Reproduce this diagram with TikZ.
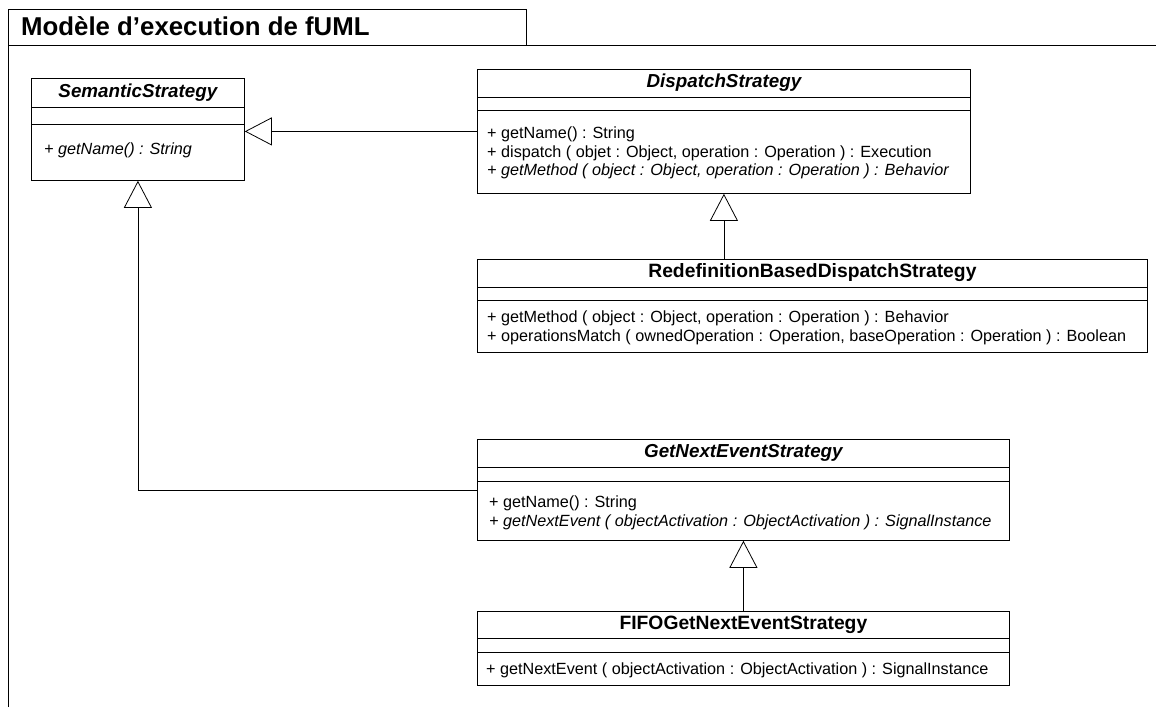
\documentclass[tikz,border=0pt]{standalone}
\usepackage{fontspec}
\setmainfont{Liberation Sans}
\usetikzlibrary{arrows.meta}

\tikzset{
	box/.style={draw, line width=0.8pt, anchor=north west, inner sep=0pt},
	cname/.style={font=\fontsize{18.8}{22}\selectfont\bfseries\itshape},
	cnameup/.style={font=\fontsize{19.3}{22}\selectfont\bfseries},
	ops/.style={anchor=north west, align=left, inner sep=0pt, font=\fontsize{16.2}{18.4}\selectfont},
	inherit/.style={-{Triangle[open, width=28pt, length=27pt]}, line width=0.8pt, fill=white}
}

\begin{document}
\begin{tikzpicture}[x=1pt, y=-1pt]
	\useasboundingbox (0,0) rectangle (1156,707);
	% frame
	\draw[line width=0.9pt] (8,707) -- (8,9) -- (526,9) -- (526,45.5);
	\draw[line width=0.9pt] (8,45.5) -- (1156,45.5);
	\node[anchor=west, inner sep=0pt, font=\fontsize{25.8}{28}\selectfont\bfseries] (frametitle) at (21,26.5) {Modèle d’execution de fUML};

	% SemanticStrategy
	\node[box, minimum width=213pt, minimum height=102pt] (sem) at (31,78) {};
	\node[cname] (semT) at ([yshift=-14.5pt]sem.north) {SemanticStrategy};
	\draw[line width=0.8pt] ([yshift=-29pt]sem.north west) -- ([yshift=-29pt]sem.north east);
	\draw[line width=0.8pt] ([yshift=-46pt]sem.north west) -- ([yshift=-46pt]sem.north east);
	\node[ops] (semO) at ([xshift=13pt, yshift=-65pt]sem.north west) {\itshape + getName() : String};

	% DispatchStrategy
	\node[box, minimum width=493pt, minimum height=124pt] (disp) at (477,69) {};
	\node[cname] (dispT) at ([yshift=-14pt]disp.north) {DispatchStrategy};
	\draw[line width=0.8pt] ([yshift=-28pt]disp.north west) -- ([yshift=-28pt]disp.north east);
	\draw[line width=0.8pt] ([yshift=-41pt]disp.north west) -- ([yshift=-41pt]disp.north east);
	\node[ops] (dispO) at ([xshift=10pt, yshift=-58pt]disp.north west) {+ getName() : String\\
		+ dispatch ( objet : Object, operation : Operation ) : Execution\\
		\itshape + getMethod ( object : Object, operation : Operation ) : Behavior};

	% RedefinitionBasedDispatchStrategy
	\node[box, minimum width=670pt, minimum height=93pt] (redef) at (477,259) {};
	\node[cnameup] (redefT) at ([yshift=-14pt]redef.north) {RedefinitionBasedDispatchStrategy};
	\draw[line width=0.8pt] ([yshift=-28pt]redef.north west) -- ([yshift=-28pt]redef.north east);
	\draw[line width=0.8pt] ([yshift=-41pt]redef.north west) -- ([yshift=-41pt]redef.north east);
	\node[ops] (redefO) at ([xshift=10pt, yshift=-52pt]redef.north west) {+ getMethod ( object : Object, operation : Operation ) : Behavior\\
		+ operationsMatch ( ownedOperation : Operation, baseOperation : Operation ) : Boolean};

	% GetNextEventStrategy
	\node[box, minimum width=532pt, minimum height=101pt] (getnext) at (477,439) {};
	\node[cname] (getnextT) at ([yshift=-14pt]getnext.north) {GetNextEventStrategy};
	\draw[line width=0.8pt] ([yshift=-28pt]getnext.north west) -- ([yshift=-28pt]getnext.north east);
	\draw[line width=0.8pt] ([yshift=-42pt]getnext.north west) -- ([yshift=-42pt]getnext.north east);
	\node[ops] (getnextO) at ([xshift=12pt, yshift=-57pt]getnext.north west) {+ getName() : String\\
		\itshape + getNextEvent ( objectActivation : ObjectActivation ) : SignalInstance};

	% FIFOGetNextEventStrategy
	\node[box, minimum width=532pt, minimum height=74pt] (fifo) at (477,611) {};
	\node[cnameup] (fifoT) at ([yshift=-13.5pt]fifo.north) {FIFOGetNextEventStrategy};
	\draw[line width=0.8pt] ([yshift=-27pt]fifo.north west) -- ([yshift=-27pt]fifo.north east);
	\draw[line width=0.8pt] ([yshift=-41pt]fifo.north west) -- ([yshift=-41pt]fifo.north east);
	\node[ops] (fifoO) at ([xshift=9pt, yshift=-52pt]fifo.north west) {+ getNextEvent ( objectActivation : ObjectActivation ) : SignalInstance};

	% generalisations
	\draw[inherit] (disp.west) -- (disp.west -| sem.east);
	\draw[inherit] (disp.south |- redef.north) -- (disp.south);
	\draw[inherit] (getnext.west) -| (sem.south);
	\draw[inherit] (fifo.north) -- (getnext.south);
\end{tikzpicture}
\end{document}
